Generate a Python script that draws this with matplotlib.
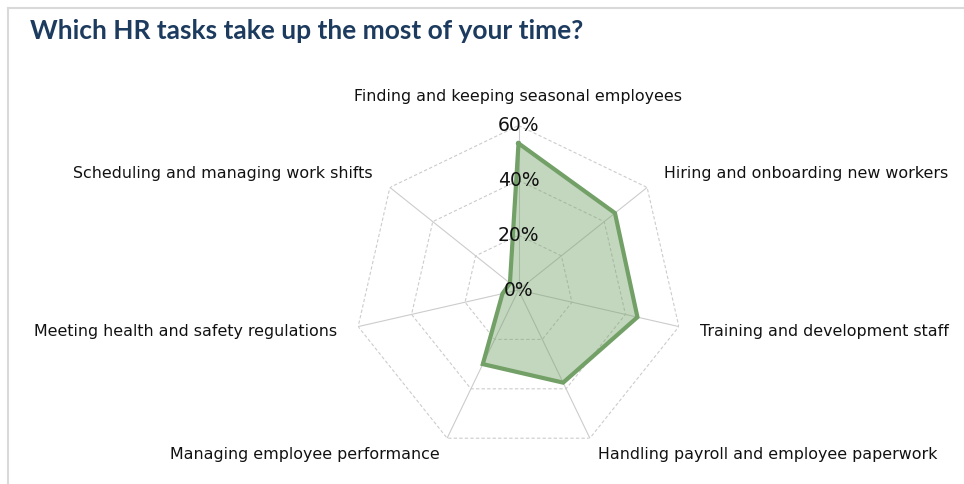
import matplotlib

matplotlib.use("Agg")
import matplotlib.pyplot as plt
import numpy as np
from matplotlib.lines import Line2D

categories = [
    "Finding and keeping seasonal employees",
    "Hiring and onboarding new workers",
    "Training and development staff",
    "Handling payroll and employee paperwork",
    "Managing employee performance",
    "Meeting health and safety regulations",
    "Scheduling and managing work shifts",
]
shares = [53.5, 45, 44.5, 37.5, 30, 6, 4]
r_ticks = [0, 20, 40, 60]
r_tick_labels = ["0%", "20%", "40%", "60%"]

GREEN = "#72a066"
GRID = "#cccccc"

n = len(categories)
# first axis straight up, going clockwise
theta = np.pi / 2 - np.arange(n) * 2 * np.pi / n
theta_closed = np.append(theta, theta[0])

fig = plt.figure(figsize=(9.64, 4.84), dpi=100)

# light frame along the top and left edges
fig.add_artist(Line2D([8 / 964, 1], [1 - 8 / 484] * 2, transform=fig.transFigure,
                      color="#d9d9d9", lw=1.5))
fig.add_artist(Line2D([8 / 964] * 2, [0, 1 - 8 / 484], transform=fig.transFigure,
                      color="#d9d9d9", lw=1.5))

fig.text(30 / 964, 1 - 31 / 484, "Which HR tasks take up the most of your time?",
         fontsize=19, fontweight="bold", family="Lato", color="#1c3b5e",
         ha="left", va="center")

cx, cy, R = 518.5, 290, 164.5
ax = fig.add_axes([(cx - R) / 964, 1 - (cy + R) / 484, 2 * R / 964, 2 * R / 484],
                  projection="polar")
ax.set_ylim(0, 60)
ax.set_xticks(theta % (2 * np.pi))
ax.set_xticklabels([])
ax.set_yticks(r_ticks)
ax.set_yticklabels([])
ax.yaxis.grid(False)
ax.xaxis.grid(True, color=GRID, lw=0.8, ls="-")
ax.spines["polar"].set_visible(False)
ax.set_facecolor("none")
ax.tick_params(length=0)

# polygon rings
for r in r_ticks[1:]:
    ax.plot(theta_closed, [r] * (n + 1), color=GRID, lw=0.8, ls=(0, (3, 2)), zorder=1)

vals = np.append(shares, shares[0])
ax.fill(theta_closed, vals, color=GREEN, alpha=0.42, lw=0, zorder=2)
ax.plot(theta_closed, vals, color=GREEN, lw=3, zorder=3, solid_joinstyle="miter")

for r, lbl in zip(r_ticks, r_tick_labels):
    ax.text(np.pi / 2, r, lbl, fontsize=13.5, ha="center", va="center",
            color="#111111", zorder=4)

for t, name in zip(theta, categories):
    c = np.cos(t)
    if abs(c) < 1e-6:
        ax.text(t, 68, name, fontsize=11.4, ha="center", va="bottom", clip_on=False,
                color="#111111")
        continue
    ha = "left" if c > 0 else "right"
    r_lbl = 68 if np.sin(t) > -0.5 else 66.5
    ax.text(t, r_lbl, name, fontsize=11.4, ha=ha, va="center", clip_on=False,
            color="#111111")

fig.savefig("out.png", dpi=100)
